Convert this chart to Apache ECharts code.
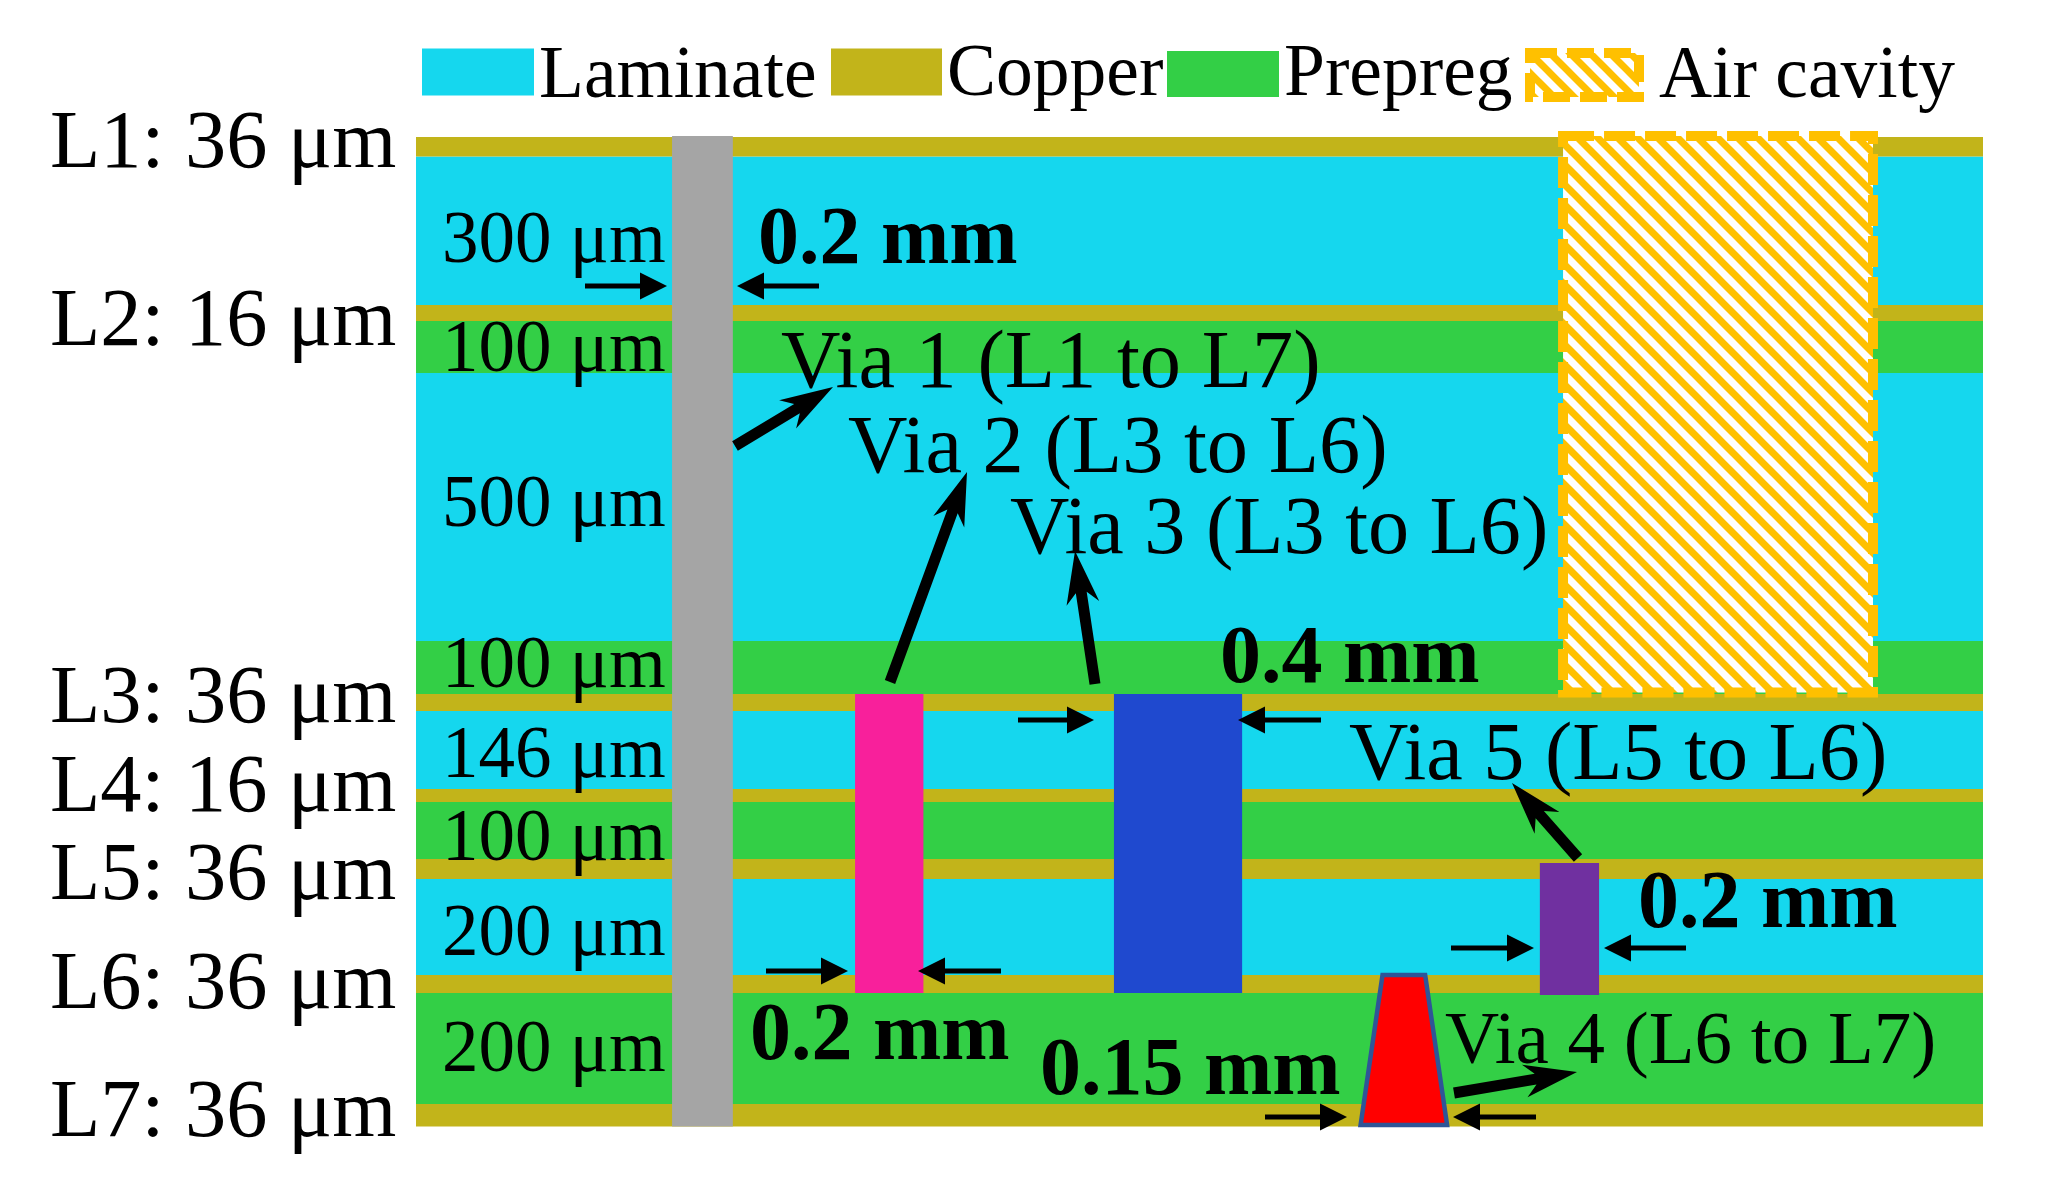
<!DOCTYPE html>
<html lang="en">
<head>
    <meta charset="UTF-8">
    <title>PCB stackup</title>
    <script src="https://cdn.jsdelivr.net/npm/echarts@6/dist/echarts.min.js"></script>
    <style type="text/css">
        body{
            margin:0;
            background:#fff;
        }
    </style>
</head>
<body>
<div id="main" style="width: 2049px;height:1203px;"></div>
<script type="text/javascript">
    // stack read top to bottom; drawn thickness is not to scale with the labelled microns
    var layerMaterials = ['Copper','Laminate','Copper','Prepreg','Laminate','Prepreg','Copper','Laminate','Copper','Prepreg','Copper','Laminate','Copper','Prepreg','Copper'];
    var layerHeights = [19.5,148.5,16,52,268,53,17,78,13,57,20,96,18,111,22.5];
    var boardWidth = 5;   // mm

    // vias: left and right edge in mm, top and bottom in drawn depth
    var viaLeft = [0.817,1.401,2.227,3.586];
    var viaRight = [1.011,1.619,2.636,3.775];
    var viaTop = [-1,557,557,726];
    var viaBottom = [989.5,856,856,858];
    var cavity = [3.660,4.649,-1,555.5];
    var taperedVia = [3.084,3.220,3.014,3.290,838,988];   // top l/r, bottom l/r, top, bottom

    var copperNames = ['L1: 36 μm','L2: 16 μm','L3: 36 μm','L4: 16 μm','L5: 36 μm','L6: 36 μm','L7: 36 μm'];
    var dielectricNames = ['300 μm','100 μm','500 μm','100 μm','146 μm','100 μm','200 μm','200 μm'];

    var colors = {Laminate:'#15D7EE',Copper:'#C2B41A',Prepreg:'#33CF46','Air cavity':'#FFC000'};
    var viaColors = ['#A5A5A5','#F8209B','#1F49CF','#7030A0'];
    var serif = '"Liberation Serif","Times New Roman",serif';

    // hatch for the air cavity
    var hatchCanvas = document.createElement('canvas');
    hatchCanvas.width = 20;
    hatchCanvas.height = 20;
    var ctx = hatchCanvas.getContext('2d');
    ctx.fillStyle = '#fff';
    ctx.fillRect(0,0,20,20);
    ctx.strokeStyle = colors['Air cavity'];
    ctx.lineWidth = 7;
    for(var k=-20;k<=20;k+=20){
        ctx.beginPath();
        ctx.moveTo(k-5,-5);
        ctx.lineTo(k+25,25);
        ctx.stroke();
    }
    var hatch = {image:hatchCanvas,repeat:'repeat'};

    function layerData(material){
        var out = [];
        var depth = 0;
        for(var i=0;i<layerHeights.length;i++){
            if(layerMaterials[i]==material){
                out.push([0,boardWidth,depth,depth+layerHeights[i]]);
            }
            depth += layerHeights[i];
        }
        return out;
    }

    function renderBox(params,api){
        var p0 = api.coord([api.value(0),api.value(2)]);
        var p1 = api.coord([api.value(1),api.value(3)]);
        return {type:'rect',shape:{x:p0[0],y:p0[1],width:p1[0]-p0[0],height:p1[1]-p0[1]},style:api.style()};
    }

    function layerSeries(name){
        return {
            name:name,
            type:'custom',
            coordinateSystem:'cartesian2d',
            clip:false,
            silent:true,
            itemStyle:{color:colors[name]},
            renderItem:renderBox,
            encode:{x:[0,1],y:[2,3]},
            data:layerData(name),
            z:2
        };
    }

    var viaData = viaLeft.map(function(v,i){
        return {value:[v,viaRight[i],viaTop[i],viaBottom[i]],itemStyle:{color:viaColors[i]}};
    });

    // rich text so padTop really moves the legend text down against its swatch
    function legendAt(name,left,top,w,h,padTop,pad,extra){
        var l = {
            data:[name],
            left:left,
            top:top,
            padding:0,
            itemWidth:w,
            itemHeight:h,
            itemGap:0,
            selectedMode:false,
            icon:'rect',
            formatter:'{t|{name}}',
            textStyle:{
                rich:{t:{fontFamily:serif,fontSize:73.5,color:'#000',padding:[padTop,0,0,pad]}}
            }
        };
        if(extra){
            l.itemStyle = extra;
        }
        return l;
    }

    // annotation text, drawn in page pixels, placed by its baseline
    function label(text,x,baseline,size,bold){
        return {
            type:'text',
            x:x,
            y:baseline-0.2425*size,
            z:50,
            silent:true,
            style:{
                text:text,
                fill:'#000',
                font:(bold?'bold ':'')+size+'px '+serif,
                align:'left',
                verticalAlign:'middle'
            }
        };
    }

    function arrow(x0,y0,x1,y1,headLen,headWidth,shaft,notch){
        var len = Math.sqrt((x1-x0)*(x1-x0)+(y1-y0)*(y1-y0));
        var ux = (x1-x0)/len, uy = (y1-y0)/len;
        var nx = -uy, ny = ux;
        function pt(along,side){
            return [x0+ux*along+nx*side,y0+uy*along+ny*side];
        }
        return {
            type:'polygon',
            z:49,
            silent:true,
            shape:{points:[
                pt(0,-shaft/2),
                pt(len-headLen+notch,-shaft/2),
                pt(len-headLen,-headWidth/2),
                pt(len,0),
                pt(len-headLen,headWidth/2),
                pt(len-headLen+notch,shaft/2),
                pt(0,shaft/2)
            ]},
            style:{fill:'#000'}
        };
    }

    var annotations = [];
    var copperBase = [165,343,720,809,897,1006,1134];
    copperNames.forEach(function(t,i){
        annotations.push(label(t,50,copperBase[i],82.4));
    });
    var dielectricBase = [261,370,525,686,776,859,954,1070];
    dielectricNames.forEach(function(t,i){
        annotations.push(label(t,442,dielectricBase[i],73));
    });
    annotations.push(
        label('Via 1 (L1 to L7)',781,385,82.4),
        label('Via 2 (L3 to L6)',848,470,82.4),
        label('Via 3 (L3 to L6)',1010,551,82.2),
        label('Via 5 (L5 to L6)',1349,777,82.2),
        label('Via 4 (L6 to L7)',1445,1061,75),
        label('0.2 mm',758,262,82,true),
        label('0.4 mm',1220,681,82,true),
        label('0.2 mm',1638,926,82,true),
        label('0.2 mm',750,1058,82,true),
        label('0.15 mm',1040,1093,82,true),
        arrow(585,286,667,286,27,27,5,0),
        arrow(819,286,737,286,27,27,5,0),
        arrow(766,971,848,971,27,27,5,0),
        arrow(1001,971,918,971,27,27,5,0),
        arrow(1018,720,1094,720,27,27,5,0),
        arrow(1321,720,1238,720,27,27,5,0),
        arrow(1451,948,1534,948,27,27,5,0),
        arrow(1686,948,1604,948,27,27,5,0),
        arrow(1265,1117,1347,1117,27,27,5,0),
        arrow(1536,1117,1453,1117,27,27,5,0),
        arrow(735,446,833,387,53,33,11,11),
        arrow(890,682,967,472,53,33,11,11),
        arrow(1095,684,1075,551,53,33,11,11),
        arrow(1578,858,1512,783,53,33,11,11),
        arrow(1454,1093,1577,1072,53,33,11,11)
    );

    var myChart = echarts.init(document.getElementById('main'));
    var option = {
        animation:false,
        backgroundColor:'#fff',
        grid:{left:416,top:137,width:1567,height:990,containLabel:false},
        xAxis:{type:'value',min:0,max:boardWidth,show:false},
        yAxis:{type:'value',min:0,max:990,inverse:true,show:false},
        legend:[
            legendAt('Laminate',422,41,112,47,12,0),
            legendAt('Copper',831,39,111,47,8,0),
            legendAt('Prepreg',1167,38.5,112,46,3,0),
            legendAt('Air cavity',1525,40.5,109,44,5,15,{borderColor:colors['Air cavity'],borderWidth:10,borderType:[27,10]})
        ],
        series:[
            layerSeries('Laminate'),
            layerSeries('Copper'),
            layerSeries('Prepreg'),
            {
                name:'Vias',
                type:'custom',
                clip:false,
                silent:true,
                renderItem:renderBox,
                encode:{x:[0,1],y:[2,3]},
                data:viaData,
                z:3
            },
            {
                name:'Air cavity',
                type:'custom',
                clip:false,
                silent:true,
                itemStyle:{color:hatch,borderColor:colors['Air cavity'],borderWidth:10,borderType:[31,10]},
                renderItem:function(params,api){
                    var p0 = api.coord([api.value(0),api.value(2)]);
                    var p1 = api.coord([api.value(1),api.value(3)]);
                    return {
                        type:'rect',
                        shape:{x:p0[0],y:p0[1],width:p1[0]-p0[0],height:p1[1]-p0[1]},
                        style:{fill:hatch,stroke:colors['Air cavity'],lineWidth:10,lineDash:[31,10]}
                    };
                },
                encode:{x:[0,1],y:[2,3]},
                data:[cavity],
                z:4
            },
            {
                name:'Via 4',
                type:'custom',
                clip:false,
                silent:true,
                renderItem:function(params,api){
                    var top = api.value(4), bottom = api.value(5);
                    return {
                        type:'polygon',
                        shape:{points:[
                            api.coord([api.value(0),top]),
                            api.coord([api.value(1),top]),
                            api.coord([api.value(3),bottom]),
                            api.coord([api.value(2),bottom])
                        ]},
                        style:{fill:'#FF0000',stroke:'#2F5597',lineWidth:4.5}
                    };
                },
                encode:{x:[0,1,2,3],y:[4,5]},
                data:[taperedVia],
                z:5
            }
        ],
        graphic:{elements:annotations}
    };
    myChart.setOption(option);
</script>
</body>
</html>
